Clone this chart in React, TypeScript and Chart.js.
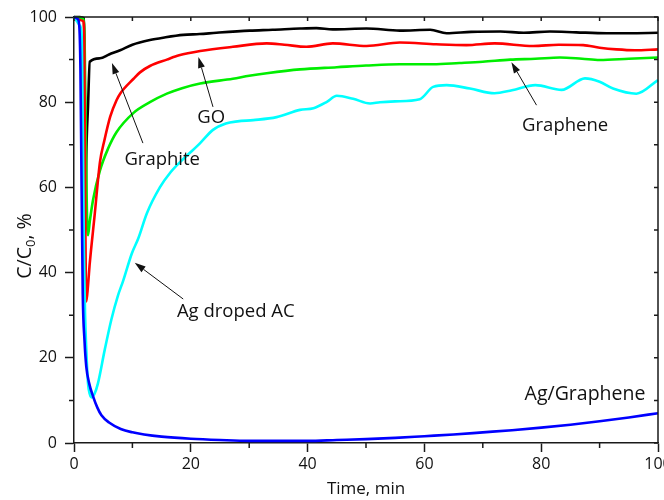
import React, { useEffect, useRef } from "react";
import { Chart, registerables } from "chart.js";

Chart.register(...registerables);

// ---------- data (time in min, C/C0 in %) ----------
const graphiteT = [0, 1.0, 1.7, 1.85, 1.95, 2.1, 2.4, 2.7, 4.45, 6, 7.9, 10, 13, 15.5, 18.7, 21.5, 24.4, 30.1, 34, 38.7, 41.5, 44.3, 50.1, 55.8, 61, 63.8, 68, 73, 77, 81.5, 86, 91.2, 95, 100];
const graphiteV = [100, 100, 99.7, 80, 50, 67, 79, 89.5, 90.3, 91.2, 92.2, 93.5, 94.6, 95.2, 95.8, 96, 96.3, 96.8, 97, 97.3, 97.4, 97.1, 97.3, 96.8, 97, 96.2, 96.5, 96.6, 96.3, 96.6, 96.4, 96.2, 96.2, 96.3];

const goT = [0, 1.0, 1.6, 1.75, 1.9, 2.1, 2.4, 2.7, 3.5, 4.45, 5.2, 6.2, 7.3, 7.9, 10.2, 11.3, 13, 15.9, 18, 21.6, 27.2, 33, 36, 39.8, 44.3, 50.1, 55.8, 62, 67.2, 72, 78.6, 83, 87.2, 90, 92.9, 96, 100];
const goV = [99.5, 99.3, 99, 95, 60, 33.2, 37, 42.2, 53, 66, 71, 76.6, 80.5, 82, 85.5, 87, 88.5, 90, 91, 92, 93, 93.8, 93.5, 93, 93.8, 93.2, 94, 93.6, 93.4, 93.8, 93.2, 93.5, 93.4, 92.8, 92.4, 92.2, 92.4];

const grapheneT = [0, 1.0, 1.6, 1.8, 2.0, 2.2, 2.4, 2.7, 3.25, 4.45, 5.8, 7.3, 10.2, 13, 15.9, 18.5, 21.6, 27.2, 30, 33, 38.7, 45, 50, 55.8, 61.5, 66, 70, 74.7, 79, 83.2, 87, 90, 95, 100];
const grapheneV = [100, 99.8, 99.5, 96, 75, 55, 48.8, 52, 57, 64, 69, 73, 77.5, 80, 82, 83.3, 84.4, 85.5, 86.2, 86.8, 87.7, 88.2, 88.6, 88.9, 88.9, 89.2, 89.5, 90, 90.2, 90.5, 90.2, 89.9, 90.2, 90.5];

const agAcT = [0, 0.5, 1.0, 1.3, 1.5, 1.7, 1.9, 2.1, 2.4, 2.7, 3.0, 3.5, 4.1, 5.25, 6.4, 7.5, 8.4, 9.9, 11, 12.5, 14.7, 16.5, 18.2, 20, 21.6, 23.8, 26, 28, 30.7, 34.7, 38.7, 41, 43.3, 45, 47.8, 50.7, 52.4, 55, 59.2, 61.5, 63.8, 67.8, 72, 75, 79, 83.5, 87.5, 90, 92.3, 96.3, 100];
const agAcV = [100, 99, 98, 96, 75, 45, 30, 22, 14, 11.5, 10.7, 11.5, 14, 21.8, 29, 34.5, 38, 44.5, 48, 54, 60, 63.5, 66, 68.3, 70.4, 73.5, 75, 75.5, 75.8, 76.5, 78.2, 78.6, 80.1, 81.5, 80.8, 79.7, 80, 80.2, 80.7, 83.6, 84, 83.2, 82.1, 82.8, 84, 82.9, 85.6, 84.8, 83.2, 82, 85.2];

const agGrT = [0, 0.6, 0.9, 1.1, 1.3, 1.5, 1.8, 2.1, 2.6, 3.25, 4, 4.7, 6, 8, 10, 12, 15, 20, 25, 30, 35, 40, 45, 50, 55, 60, 65, 70, 75, 80, 85, 90, 95, 100];
const agGrV = [100, 99.6, 98, 88, 60, 35, 24, 18, 14, 11, 8.3, 6.5, 4.8, 3.3, 2.5, 2.0, 1.5, 1.0, 0.7, 0.5, 0.5, 0.5, 0.7, 0.9, 1.2, 1.6, 2.0, 2.5, 3.0, 3.6, 4.3, 5.1, 6.0, 7.0];

const xTickStep = 20;
const yTickStep = 20;

// ---------- annotations (data units) ----------
const labelTexts = ["Graphite", "GO", "Graphene", "Ag droped AC", "Ag/Graphene"];
const labelX = [15.1, 23.5, 84.1, 27.7, 87.5];
const labelY = [66.4, 76.4, 74.4, 30.8, 11.3];
const arrowTailX = [11.8, 23.8, 79.2, 18.7];
const arrowTailY = [70.4, 78.9, 79.3, 33.8];
const arrowTipX = [6.5, 21.3, 74.9, 10.4];
const arrowTipY = [89.2, 90.6, 89.4, 42.3];

const FONT = "'Open Sans', 'Noto Sans', sans-serif";
const AXIS_COLOR = "#1a1a1a";

function pts(t: number[], v: number[]) {
  return t.map((x, i) => ({ x, y: v[i] }));
}

const framePlugin = {
  id: "frameAndLabels",
  afterDatasetsDraw(chart: any) {
    const { ctx, scales } = chart;
    const xs = scales.x;
    const ys = scales.y;
    ctx.save();
    ctx.fillStyle = "#111";
    ctx.textAlign = "center";
    ctx.textBaseline = "middle";
    labelTexts.forEach((txt, i) => {
      ctx.font = `${i === 4 ? 19.5 : 18.5}px ${FONT}`;
      ctx.fillText(txt, xs.getPixelForValue(labelX[i]), ys.getPixelForValue(labelY[i]));
    });
    ctx.strokeStyle = "#111";
    ctx.lineWidth = 1;
    arrowTailX.forEach((_, i) => {
      const x0 = xs.getPixelForValue(arrowTailX[i]);
      const y0 = ys.getPixelForValue(arrowTailY[i]);
      const x1 = xs.getPixelForValue(arrowTipX[i]);
      const y1 = ys.getPixelForValue(arrowTipY[i]);
      const ang = Math.atan2(y1 - y0, x1 - x0);
      const hl = 11;
      const hw = 3.5;
      const bx = x1 - hl * Math.cos(ang);
      const by = y1 - hl * Math.sin(ang);
      ctx.beginPath();
      ctx.moveTo(x0, y0);
      ctx.lineTo(bx, by);
      ctx.stroke();
      ctx.beginPath();
      ctx.moveTo(x1, y1);
      ctx.lineTo(bx + hw * Math.sin(ang), by - hw * Math.cos(ang));
      ctx.lineTo(bx - hw * Math.sin(ang), by + hw * Math.cos(ang));
      ctx.closePath();
      ctx.fill();
    });
    ctx.restore();
  },
  afterDraw(chart: any) {
    const { ctx, chartArea, scales } = chart;
    const xs = scales.x;
    const ys = scales.y;
    const { left, right, top, bottom } = chartArea;
    ctx.save();
    ctx.strokeStyle = AXIS_COLOR;
    ctx.lineWidth = 1.5;
    ctx.beginPath();
    ctx.moveTo(left, top);
    ctx.lineTo(right, top);
    ctx.lineTo(right, bottom);
    ctx.stroke();
    ctx.beginPath();
    for (let v = xs.min; v <= xs.max + 1e-6; v += xTickStep / 2) {
      const px = xs.getPixelForValue(v);
      const major = Math.abs(v / xTickStep - Math.round(v / xTickStep)) < 1e-6;
      if (!major) {
        ctx.moveTo(px, bottom);
        ctx.lineTo(px, bottom + 5);
      }
      ctx.moveTo(px, top);
      ctx.lineTo(px, top + 4);
    }
    for (let v = ys.min; v <= ys.max + 1e-6; v += yTickStep / 2) {
      const py = ys.getPixelForValue(v);
      const major = Math.abs(v / yTickStep - Math.round(v / yTickStep)) < 1e-6;
      if (!major) {
        ctx.moveTo(left, py);
        ctx.lineTo(left - 5, py);
      }
      ctx.moveTo(right, py);
      ctx.lineTo(right - 4, py);
    }
    ctx.stroke();
    const cx = 24;
    const cy = (top + bottom) / 2 + 16;
    ctx.translate(cx, cy);
    ctx.rotate(-Math.PI / 2);
    ctx.fillStyle = "#111";
    ctx.textBaseline = "alphabetic";
    ctx.textAlign = "left";
    const big = `19.5px ${FONT}`;
    const small = `13px ${FONT}`;
    ctx.font = big;
    const w1 = ctx.measureText("C/C").width;
    const w3 = ctx.measureText(", %").width;
    ctx.font = small;
    const w2 = ctx.measureText("0").width;
    let x = -(w1 + w2 + w3) / 2;
    ctx.font = big;
    ctx.fillText("C/C", x, 7);
    x += w1;
    ctx.font = small;
    ctx.fillText("0", x, 11);
    x += w2;
    ctx.font = big;
    ctx.fillText(", %", x, 7);
    ctx.restore();
  },
};

export default function App() {
  const ref = useRef<HTMLCanvasElement | null>(null);
  useEffect(() => {
    document.body.style.margin = "0";
    if (!ref.current) return;
    const line = (label: string, t: number[], v: number[], color: string) => ({
      label,
      data: pts(t, v),
      borderColor: color,
      backgroundColor: color,
      borderWidth: 2.6,
      pointRadius: 0,
      cubicInterpolationMode: "monotone" as const,
      clip: 4,
    });
    const chart = new Chart(ref.current, {
      type: "line",
      data: {
        datasets: [
          line("Ag/Graphene", agGrT, agGrV, "#0000ff"),
          line("Ag droped AC", agAcT, agAcV, "#00ffff"),
          line("GO", goT, goV, "#ff0000"),
          line("Graphene", grapheneT, grapheneV, "#00ee00"),
          line("Graphite", graphiteT, graphiteV, "#000000"),
        ],
      },
      options: {
        animation: false,
        responsive: false,
        layout: { autoPadding: false, padding: { top: 17, right: 6, left: 0, bottom: 0 } },
        plugins: { legend: { display: false }, tooltip: { enabled: false } },
        scales: {
          x: {
            type: "linear",
            min: 0,
            max: 100,
            ticks: { stepSize: xTickStep, color: "#111", font: { family: FONT, size: 16 }, padding: 3, maxRotation: 0 },
            grid: { drawOnChartArea: false, tickLength: 9, tickColor: AXIS_COLOR, tickWidth: 1.5 },
            border: { color: AXIS_COLOR, width: 1.5 },
            title: { display: true, text: "Time, min", color: "#111", font: { family: FONT, size: 17 }, padding: { top: 0, bottom: 1 } },
            afterFit: (s: any) => {
              s.height = 57;
              s.paddingLeft = 0;
              s.paddingRight = 0;
            },
          },
          y: {
            type: "linear",
            min: 0,
            max: 100,
            ticks: { stepSize: yTickStep, color: "#111", font: { family: FONT, size: 16 }, padding: 8 },
            grid: { drawOnChartArea: false, tickLength: 9, tickColor: AXIS_COLOR, tickWidth: 1.5 },
            border: { color: AXIS_COLOR, width: 1.5 },
            afterFit: (s: any) => {
              s.width = 74;
              s.paddingTop = 0;
              s.paddingBottom = 0;
            },
          },
        },
      },
      plugins: [framePlugin],
    });
    return () => chart.destroy();
  }, []);
  return (
    <div style={{ width: 664, height: 500 }}>
      <canvas ref={ref} width={664} height={500} style={{ display: "block" }} />
    </div>
  );
}
